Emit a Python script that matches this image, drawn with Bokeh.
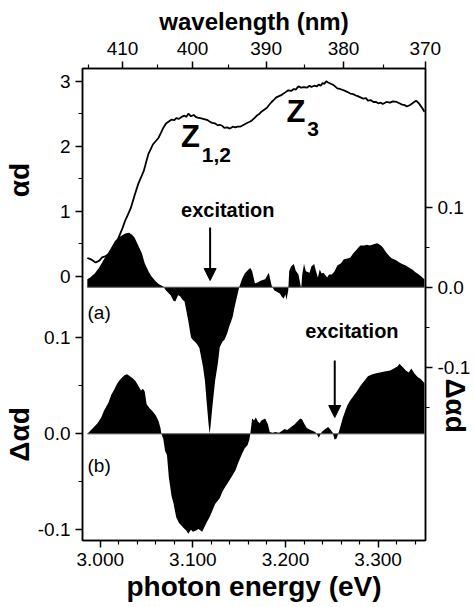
import math
from bokeh.plotting import figure
from bokeh.models import (Range1d, LinearAxis, FixedTicker, Label, Arrow,
                          NormalHead, NumeralTickFormatter)
from bokeh.embed import file_html
from bokeh.resources import INLINE

# ---------------- data ----------------
energy_abs = [2.986, 2.988, 2.991, 2.995, 2.999, 3.002, 3.006, 3.010, 3.015, 3.020,
              3.024, 3.027, 3.030, 3.033, 3.037, 3.041, 3.044, 3.047, 3.050, 3.052,
              3.055, 3.057, 3.060, 3.063, 3.066, 3.068, 3.071, 3.074, 3.077, 3.080,
              3.082, 3.085, 3.087, 3.089, 3.091, 3.093, 3.095, 3.098, 3.101, 3.103,
              3.105, 3.108, 3.111, 3.114, 3.116, 3.119, 3.121, 3.124, 3.127, 3.129,
              3.132, 3.134, 3.137, 3.140, 3.143, 3.146, 3.148, 3.151, 3.155, 3.159,
              3.162, 3.164, 3.167, 3.169, 3.172, 3.174, 3.177, 3.180, 3.182, 3.185,
              3.188, 3.190, 3.193, 3.196, 3.199, 3.203, 3.206, 3.209, 3.211, 3.214,
              3.217, 3.220, 3.223, 3.226, 3.228, 3.231, 3.234, 3.236, 3.238, 3.240,
              3.242, 3.244, 3.246, 3.249, 3.252, 3.256, 3.259, 3.263, 3.266, 3.270,
              3.273, 3.276, 3.278, 3.281, 3.284, 3.287, 3.289, 3.292, 3.295, 3.298,
              3.300, 3.303, 3.305, 3.309, 3.313, 3.316, 3.320, 3.323, 3.326, 3.329,
              3.331, 3.334, 3.336, 3.339, 3.341, 3.344, 3.346, 3.348, 3.350]
alpha_d = [0.28, 0.27, 0.25, 0.21, 0.24, 0.29, 0.31, 0.35, 0.42, 0.60,
           0.74, 0.86, 0.95, 1.05, 1.24, 1.42, 1.52, 1.62, 1.78, 1.88,
           1.97, 2.03, 2.08, 2.13, 2.22, 2.28, 2.35, 2.38, 2.41, 2.40,
           2.43, 2.42, 2.44, 2.46, 2.47, 2.45, 2.50, 2.46, 2.48, 2.45,
           2.44, 2.43, 2.42, 2.41, 2.40, 2.37, 2.36, 2.35, 2.32, 2.33,
           2.31, 2.28, 2.29, 2.27, 2.30, 2.29, 2.30, 2.30, 2.33, 2.36,
           2.38, 2.40, 2.44, 2.47, 2.50, 2.53, 2.56, 2.59, 2.63, 2.68,
           2.72, 2.75, 2.77, 2.79, 2.82, 2.86, 2.85, 2.88, 2.87, 2.92,
           2.90, 2.91, 2.90, 2.93, 2.91, 2.93, 2.92, 2.95, 2.93, 2.97,
           2.96, 3.00, 2.98, 2.96, 2.94, 2.89, 2.88, 2.86, 2.84, 2.81,
           2.80, 2.78, 2.77, 2.75, 2.73, 2.74, 2.70, 2.71, 2.68, 2.68,
           2.66, 2.67, 2.65, 2.68, 2.67, 2.69, 2.68, 2.66, 2.64, 2.63,
           2.61, 2.63, 2.65, 2.68, 2.70, 2.66, 2.62, 2.58, 2.53]

# (a) differential absorption, excitation at 3.118 eV (right axis)
energy_a = [2.986, 2.989, 2.994, 2.999, 3.004, 3.010, 3.016, 3.021, 3.027, 3.031,
            3.034, 3.037, 3.041, 3.045, 3.048, 3.052, 3.055, 3.060, 3.063, 3.066,
            3.068, 3.071, 3.076, 3.079, 3.081, 3.084, 3.086, 3.089, 3.091, 3.095,
            3.098, 3.100, 3.102, 3.105, 3.107, 3.111, 3.113, 3.115, 3.117, 3.118,
            3.119, 3.121, 3.124, 3.127, 3.129, 3.132, 3.134, 3.137, 3.139, 3.143,
            3.145, 3.148, 3.150, 3.153, 3.156, 3.160, 3.162, 3.164, 3.167, 3.170,
            3.173, 3.178, 3.182, 3.185, 3.188, 3.191, 3.194, 3.196, 3.198, 3.200,
            3.201, 3.203, 3.204, 3.206, 3.209, 3.211, 3.214, 3.216, 3.217, 3.218,
            3.220, 3.222, 3.226, 3.228, 3.231, 3.233, 3.235, 3.237, 3.239, 3.241,
            3.245, 3.247, 3.250, 3.253, 3.256, 3.260, 3.263, 3.267, 3.270, 3.273,
            3.276, 3.279, 3.281, 3.285, 3.288, 3.291, 3.296, 3.299, 3.302, 3.305,
            3.309, 3.312, 3.315, 3.319, 3.323, 3.326, 3.330, 3.334, 3.337, 3.340,
            3.344, 3.347, 3.350]
delta_a = [0.010, 0.012, 0.017, 0.025, 0.035, 0.046, 0.058, 0.063, 0.067, 0.068,
           0.066, 0.062, 0.052, 0.042, 0.030, 0.020, 0.014, 0.007, 0.004, 0.002,
           0.001, -0.004, -0.010, -0.017, -0.018, -0.010, -0.011, -0.016, -0.018, -0.042,
           -0.063, -0.066, -0.068, -0.072, -0.076, -0.100, -0.117, -0.145, -0.172, -0.183,
           -0.175, -0.150, -0.117, -0.095, -0.075, -0.068, -0.066, -0.058, -0.050, -0.037,
           -0.025, -0.010, 0.000, 0.010, 0.017, 0.022, 0.024, 0.020, 0.005, 0.006,
           0.008, 0.010, 0.018, 0.002, -0.004, -0.006, -0.008, -0.012, -0.014, -0.009,
           -0.016, -0.004, 0.020, 0.026, 0.029, 0.021, 0.016, 0.004, -0.002, 0.015,
           0.029, 0.020, 0.018, 0.026, 0.029, 0.020, 0.012, 0.022, 0.017, 0.018,
           0.012, 0.016, 0.016, 0.020, 0.027, 0.030, 0.035, 0.036, 0.037, 0.042,
           0.046, 0.050, 0.052, 0.052, 0.053, 0.052, 0.054, 0.055, 0.053, 0.050,
           0.043, 0.039, 0.036, 0.034, 0.031, 0.029, 0.027, 0.024, 0.022, 0.019,
           0.016, 0.013, 0.010]

# (b) differential absorption, excitation at 3.253 eV (left lower axis)
energy_b = [2.986, 2.989, 2.994, 2.997, 3.001, 3.004, 3.009, 3.012, 3.015, 3.018,
            3.021, 3.026, 3.029, 3.032, 3.035, 3.038, 3.041, 3.044, 3.046, 3.048,
            3.050, 3.053, 3.056, 3.060, 3.063, 3.065, 3.066, 3.068, 3.070, 3.072,
            3.074, 3.077, 3.079, 3.082, 3.085, 3.089, 3.093, 3.095, 3.098, 3.100,
            3.103, 3.106, 3.110, 3.112, 3.115, 3.118, 3.121, 3.124, 3.129, 3.132,
            3.135, 3.139, 3.143, 3.146, 3.149, 3.153, 3.156, 3.159, 3.161, 3.162,
            3.164, 3.166, 3.168, 3.170, 3.172, 3.174, 3.178, 3.181, 3.183, 3.186,
            3.189, 3.193, 3.196, 3.199, 3.202, 3.206, 3.210, 3.213, 3.216, 3.218,
            3.220, 3.223, 3.227, 3.230, 3.233, 3.236, 3.239, 3.243, 3.246, 3.249,
            3.251, 3.253, 3.255, 3.257, 3.260, 3.262, 3.265, 3.267, 3.270, 3.273,
            3.277, 3.281, 3.285, 3.289, 3.294, 3.298, 3.302, 3.307, 3.313, 3.317,
            3.321, 3.323, 3.327, 3.330, 3.333, 3.336, 3.339, 3.343, 3.346, 3.350]
delta_b = [0.000, 0.003, 0.008, 0.011, 0.017, 0.024, 0.033, 0.041, 0.046, 0.052,
           0.056, 0.061, 0.062, 0.060, 0.058, 0.055, 0.050, 0.045, 0.047, 0.044,
           0.031, 0.027, 0.024, 0.019, 0.013, 0.006, 0.000, -0.005, -0.018, -0.022,
           -0.045, -0.065, -0.072, -0.087, -0.093, -0.097, -0.101, -0.104, -0.100, -0.102,
           -0.101, -0.099, -0.102, -0.098, -0.092, -0.087, -0.080, -0.073, -0.067, -0.060,
           -0.055, -0.049, -0.043, -0.038, -0.030, -0.021, -0.015, -0.012, -0.006, 0.000,
           0.016, 0.014, 0.017, 0.013, 0.011, 0.014, 0.016, 0.010, 0.002, 0.001,
           0.002, 0.001, 0.003, 0.005, 0.004, 0.007, 0.010, 0.013, 0.016, 0.015,
           0.011, 0.006, 0.004, 0.003, 0.001, -0.004, 0.002, 0.005, 0.007, 0.004,
           0.001, -0.006, -0.005, 0.000, 0.010, 0.017, 0.025, 0.030, 0.035, 0.039,
           0.044, 0.050, 0.055, 0.060, 0.062, 0.063, 0.064, 0.065, 0.066, 0.068,
           0.070, 0.073, 0.069, 0.066, 0.064, 0.068, 0.063, 0.059, 0.057, 0.053]

# ---------------- ticks ----------------
energy_major = [3.0, 3.1, 3.2, 3.3]
energy_minor = [3.02, 3.04, 3.06, 3.08, 3.12, 3.14, 3.16, 3.18,
                3.22, 3.24, 3.26, 3.28, 3.32, 3.34]
wavelength_major = [410, 400, 390, 380, 370]
wavelength_minor = [415, 405, 395, 385, 375]
ad_major = [0, 1, 2, 3]
ad_minor = [0.5, 1.5, 2.5]
b_major = [-0.1, 0.0, 0.1]
b_minor = [-0.05, 0.05]
a_major = [-0.1, 0.0, 0.1]
a_minor = [-0.15, -0.05, 0.05]
HC = 1239.84  # eV nm

# ---------------- ranges ----------------
X0, X1 = 2.9808, 3.3512
B0, B1 = -0.1111, 0.3805      # lower-panel delta alpha d (left)
AD0, AD1 = -4.066, 3.195      # alpha d (left, upper)
A0, A1 = -0.3166, 0.2734      # upper-panel delta alpha d (right)

FONT = "Liberation Sans"
NB = "\u00a0"

p = figure(width=474, height=607, output_backend="svg", toolbar_location=None,
           x_range=Range1d(X0, X1), y_range=Range1d(B0, B1),
           x_axis_location=None, y_axis_location=None,
           min_border_left=78, min_border_right=49, min_border_top=68,
           min_border_bottom=67)
p.extra_y_ranges = {"ad": Range1d(AD0, AD1), "a": Range1d(A0, A1)}
p.xgrid.visible = False
p.ygrid.visible = False
p.outline_line_color = "black"
p.outline_line_width = 1.5
p.background_fill_color = "white"
p.border_fill_color = "white"


def style_axis(ax):
    ax.axis_line_width = 1.5
    ax.major_tick_line_width = 1.5
    ax.minor_tick_line_width = 1.2
    ax.major_tick_in = 0
    ax.major_tick_out = 7
    ax.minor_tick_in = 0
    ax.minor_tick_out = 4
    ax.major_label_text_font = FONT
    ax.major_label_text_font_size = "19px"
    ax.major_label_text_color = "black"
    ax.axis_label_text_font = FONT
    ax.axis_label_text_font_style = "bold"
    ax.axis_label_text_color = "black"


bottom = LinearAxis(ticker=FixedTicker(ticks=energy_major, minor_ticks=energy_minor),
                    formatter=NumeralTickFormatter(format="0.000"),
                    axis_label="photon energy (eV)")
style_axis(bottom)
bottom.major_label_standoff = 5
bottom.axis_label_standoff = 2
bottom.axis_label_text_font_size = "28px"
p.add_layout(bottom, "below")

wl_pos = [round(HC / w, 6) for w in wavelength_major]
wl_minor_pos = [round(HC / w, 6) for w in wavelength_minor]
top = LinearAxis(ticker=FixedTicker(ticks=wl_pos, minor_ticks=wl_minor_pos),
                 axis_label="wavelength (nm)")
top.major_label_overrides = {pos: str(w) for pos, w in zip(wl_pos, wavelength_major)}
style_axis(top)
top.major_label_standoff = 7
top.axis_label_standoff = 4
top.axis_label_text_font_size = "24px"
p.add_layout(top, "above")


def ad_to_b(v):
    return round(B0 + (v - AD0) * (B1 - B0) / (AD1 - AD0), 6)


left_ticks = list(b_major) + [ad_to_b(v) for v in ad_major]
left_minor = list(b_minor) + [ad_to_b(v) for v in ad_minor]
left_over = {}
for v in b_major:
    left_over[v] = "%.1f" % v
for v in ad_major:
    left_over[ad_to_b(v)] = str(v)
# one left axis carries both titles: lower "Δαd" and upper "αd"
left = LinearAxis(ticker=FixedTicker(ticks=left_ticks, minor_ticks=left_minor),
                  axis_label="Δαd" + NB * 27 + "αd" + NB * 2)
left.major_label_overrides = left_over
style_axis(left)
left.major_label_standoff = 5
left.major_label_orientation = "horizontal"
left.axis_label_standoff = 0
left.axis_label_text_font_size = "28px"
p.add_layout(left, "left")

# right axis: its title is pulled in beside the tick labels, in the lower half
right = LinearAxis(y_range_name="a",
                   ticker=FixedTicker(ticks=a_major, minor_ticks=a_minor),
                   axis_label=NB * 26 + "Δαd")
right.major_label_overrides = {v: "%.1f" % v for v in a_major}
style_axis(right)
right.major_label_standoff = 5
right.major_label_orientation = "horizontal"
right.axis_label_standoff = -33
right.axis_label_text_font_size = "28px"
p.add_layout(right, "right")

# ---------------- glyphs ----------------
p.varea(x=energy_a, y1=0, y2=delta_a, y_range_name="a", fill_color="black")
p.varea(x=energy_b, y1=0, y2=delta_b, fill_color="black")
p.line([min(energy_a), max(energy_a)], [0, 0], y_range_name="a",
       line_color="#555555", line_width=1)
p.line([min(energy_b), max(energy_b)], [0, 0],
       line_color="#555555", line_width=1)
p.line(energy_abs, alpha_d, y_range_name="ad", line_color="black", line_width=1.8)


# ---------------- annotations ----------------
def lab(text, x, y, size, bold=False, yr="default", baseline="middle", **kw):
    l = Label(x=x, y=y, text=text, y_range_name=yr, text_font=FONT,
              text_font_size=size, text_color="black",
              text_font_style="bold" if bold else "normal",
              text_baseline=baseline, text_align=kw.pop("align", "left"), **kw)
    p.add_layout(l)
    return l


lab("Z", 3.0872, 2.149, "31px", True, "ad")
lab("1,2", 3.1096, 1.872, "21px", True, "ad")
lab("Z", 3.2011, 2.526, "31px", True, "ad")
lab("3", 3.2234, 2.265, "21px", True, "ad")
lab("excitation", 3.0872, 0.0971, "20px", True, "a")
lab("excitation", 3.2213, -0.0541, "20px", True, "a")
lab("(a)", 2.9862, -0.0316, "19px", False, "a")
lab("(b)", 2.9862, -0.033, "19px", False, "default")

p.add_layout(Arrow(x_start=3.1186, y_start=0.0746, x_end=3.1186, y_end=0.0084,
                   y_range_name="a", line_width=2, line_color="black",
                   end=NormalHead(size=12, fill_color="black", line_color="black")))
p.add_layout(Arrow(x_start=3.2532, y_start=0.0764, x_end=3.2532, y_end=0.017,
                   line_width=2, line_color="black",
                   end=NormalHead(size=12, fill_color="black", line_color="black")))

open("out.html", "w").write(file_html(p, INLINE))
